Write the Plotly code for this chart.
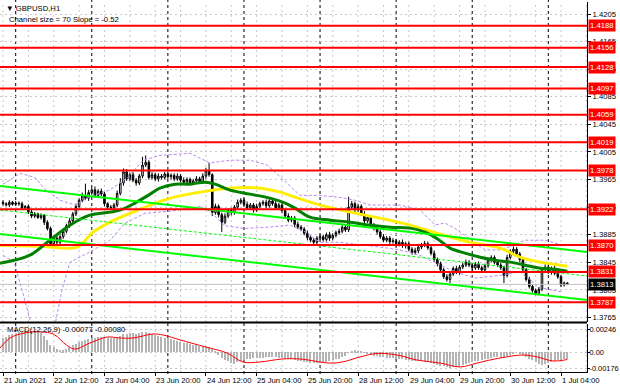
import plotly.graph_objects as go

# ---------------- data ----------------
close = [
    1.3930, 1.3928, 1.3932, 1.3929, 1.3931, 1.3930,
    1.3924, 1.3926,
    1.3918, 1.3912, 1.3915, 1.3910, 1.3913,
    1.3903, 1.3894,
    1.3872,
    1.3880, 1.3874, 1.3882,
    1.3890, 1.3898, 1.3905,
    1.3915, 1.3926,
    1.3935, 1.3941, 1.3938,
    1.3946, 1.3950, 1.3942, 1.3948, 1.3944,
    1.3930, 1.3925,
    1.3924, 1.3928,
    1.3945, 1.3960,
    1.3976, 1.3966, 1.3972,
    1.3964, 1.3960, 1.3970,
    1.3986, 1.3990,
    1.3968,
    1.3972, 1.3966, 1.3970, 1.3968, 1.3973, 1.3969, 1.3971, 1.3966, 1.3970,
    1.3964, 1.3961, 1.3965, 1.3960, 1.3963, 1.3966, 1.3962,
    1.3970, 1.3978, 1.3972,
    1.3917,
    1.3926, 1.3914, 1.3903,
    1.3912, 1.3920, 1.3917, 1.3925,
    1.3932, 1.3935, 1.3929,
    1.3924, 1.3928, 1.3921, 1.3926, 1.3930,
    1.3932, 1.3927, 1.3934, 1.3930, 1.3924, 1.3928,
    1.3920, 1.3912, 1.3906, 1.3909, 1.3900, 1.3896,
    1.3893, 1.3887, 1.3881,
    1.3877, 1.3874, 1.3880,
    1.3882, 1.3878, 1.3885, 1.3880, 1.3884, 1.3888,
    1.3890, 1.3896, 1.3892,
    1.3925, 1.3930,
    1.3921, 1.3926, 1.3915,
    1.3905, 1.3910, 1.3898, 1.3894, 1.3889,
    1.3882, 1.3877, 1.3880, 1.3875,
    1.3876, 1.3871, 1.3874, 1.3869, 1.3872,
    1.3864, 1.3859, 1.3862, 1.3867, 1.3870,
    1.3872, 1.3866, 1.3858,
    1.3849, 1.3843, 1.3834,
    1.3824, 1.3820, 1.3828,
    1.3836, 1.3831, 1.3838,
    1.3841, 1.3845, 1.3841, 1.3837, 1.3842,
    1.3837, 1.3834, 1.3840,
    1.3848, 1.3852, 1.3845,
    1.3841, 1.3837, 1.3826,
    1.3852, 1.3861, 1.3864,
    1.3857, 1.3849,
    1.3834, 1.3820,
    1.3810, 1.3804, 1.3800, 1.3806,
    1.3835,
    1.3838, 1.3831, 1.3836, 1.3829,
    1.3824, 1.3812, 1.3815, 1.3813,
]
first_open = 1.3932
# upper / lower wick lengths in pips
wick_up = [
    3, 2, 3, 2, 3, 2, 3, 2, 3, 4,
    3, 2, 3, 2, 3, 3, 4, 3, 3, 4,
    3, 4, 3, 4, 3, 5, 18, 4, 3, 5,
    3, 4, 3, 2, 3, 3, 4, 7, 5, 4,
    3, 4, 3, 3, 12, 10, 3, 4, 3, 4,
    3, 3, 4, 3, 3, 4, 3, 4, 3, 3,
    3, 4, 3, 4, 4, 11, 2, 4, 3, 3,
    4, 3, 4, 3, 4, 3, 3, 4, 3, 3,
    4, 3, 3, 4, 3, 3, 4, 3, 3, 3,
    4, 3, 3, 4, 3, 3, 4, 3, 3, 3,
    4, 3, 3, 4, 3, 3, 4, 3, 3, 15,
    4, 3, 4, 3, 4, 3, 3, 4, 3, 3,
    4, 3, 3, 4, 3, 3, 4, 3, 3, 3,
    4, 3, 3, 4, 3, 3, 4, 3, 3, 3,
    4, 3, 3, 4, 3, 3, 4, 3, 3, 3,
    4, 3, 3, 4, 3, 3, 4, 3, 3, 4,
    3, 4, 3, 3, 3, 3, 4, 3, 3, 3,
    3, 4, 3, 3, 4, 3, 3, 2, 1,
]
wick_dn = [
    3, 2, 3, 2, 2, 3, 3, 2, 3, 3,
    3, 2, 3, 4, 3, 6, 3, 4, 3, 3,
    3, 3, 4, 3, 3, 3, 3, 4, 3, 3,
    3, 3, 4, 3, 3, 3, 3, 3, 4, 3,
    3, 3, 4, 3, 3, 3, 3, 3, 3, 4,
    3, 3, 3, 4, 3, 3, 3, 3, 4, 3,
    3, 3, 3, 3, 4, 3, 5, 3, 4, 14,
    3, 3, 4, 3, 3, 3, 4, 3, 3, 4,
    3, 3, 3, 4, 3, 3, 3, 3, 4, 3,
    3, 3, 4, 3, 3, 3, 4, 3, 3, 3,
    3, 3, 3, 4, 3, 3, 3, 3, 3, 3,
    3, 4, 3, 3, 4, 3, 3, 3, 4, 3,
    3, 3, 4, 3, 3, 3, 3, 4, 3, 3,
    3, 4, 3, 3, 3, 3, 3, 4, 3, 3,
    3, 5, 3, 3, 4, 3, 3, 3, 4, 3,
    3, 3, 4, 3, 3, 3, 3, 3, 11, 3,
    3, 3, 3, 4, 3, 3, 3, 3, 3, 3,
    3, 3, 3, 4, 3, 3, 3, 2, 1,
]

levels = [1.4188, 1.4156, 1.4128, 1.4097, 1.4059, 1.4019, 1.3978, 1.3922, 1.3870, 1.3831, 1.3787]
last_price = 1.3813
price_ticks = [1.4205, 1.4165, 1.4125, 1.4085, 1.4045, 1.4005, 1.3965, 1.3925, 1.3885, 1.3845, 1.3805, 1.3765]

time_labels = ["21 Jun 2021", "22 Jun 12:00", "23 Jun 04:00", "23 Jun 20:00", "24 Jun 12:00",
               "25 Jun 04:00", "25 Jun 20:00", "28 Jun 12:00", "29 Jun 04:00", "29 Jun 20:00",
               "30 Jun 12:00", "1 Jul 04:00"]
time_label_bars = [0, 16, 32, 48, 64, 80, 96, 112, 128, 144, 160, 176]
day_sep_bars = [4, 28, 52, 76, 100, 124, 148, 172]
grid_bars = list(range(0, 185, 8))

ma_green_bar = [-0.95, 8.5, 14.8, 21.1, 27.4, 33.8, 36.9, 41.6, 46.4, 49.5, 54.3, 59.0, 63.7, 66.9,
                71.6, 77.9, 84.2, 89.0, 92.1, 96.8, 103.2, 109.5, 115.8, 122.1, 128.4, 133.1, 137.2,
                141.0, 145.7, 150.5, 155.2, 159.9, 164.7, 169.4, 174.1, 178.0]
ma_green = [1.38437, 1.38553, 1.38771, 1.38988, 1.39133, 1.39177, 1.39206, 1.39308, 1.39438, 1.39525,
            1.39583, 1.39583, 1.39612, 1.39583, 1.39496, 1.39438, 1.39380, 1.39308, 1.39235, 1.39105,
            1.39061, 1.39032, 1.38988, 1.38959, 1.38945, 1.38887, 1.38785, 1.38655, 1.38582, 1.38524,
            1.38481, 1.38452, 1.38408, 1.38365, 1.38350, 1.38321]

ma_yellow_bar = [-0.95, 11.7, 23.3, 28.4, 33.8, 41.0, 51.7, 62.1, 71.6, 81.1, 87.4, 92.1, 100.0,
                 109.5, 118.9, 128.4, 137.9, 147.3, 156.8, 163.1, 169.4, 178.0]
ma_yellow = [1.38698, 1.38684, 1.38669, 1.38887, 1.39032, 1.39177, 1.39366, 1.39467, 1.39525, 1.39525,
             1.39467, 1.39394, 1.39279, 1.39177, 1.39090, 1.38988, 1.38858, 1.38742, 1.38655, 1.38524,
             1.38452, 1.38394]

bb_up_bar = [0, 5.4, 10.1, 13.2, 18.0, 22.7, 27.4, 33.8, 39.1, 44.2, 49.5, 59.0, 65.3, 71.6, 77.9,
             83.3, 87.4, 93.7, 100.0, 106.3, 111.0, 115.8, 125.2, 131.5, 136.3, 139.4, 142.6, 152.0,
             157.4, 164.7, 171.0, 176.3]
bb_up = [1.3958, 1.3974, 1.3968, 1.3951, 1.3935, 1.3928, 1.3940, 1.3950, 1.3967, 1.3993, 1.4000,
         1.4003, 1.3989, 1.3993, 1.3993, 1.3986, 1.3969, 1.3942, 1.3942, 1.3939, 1.3935, 1.3928,
         1.3928, 1.3921, 1.3899, 1.3902, 1.3894, 1.3863, 1.3863, 1.3877, 1.3877, 1.3870]
bb_lo_bar = [0, 3.5, 6.0, 8.0, 9.5, 16.0, 18.6, 21.1, 27.4, 33.8, 38.5, 44.8, 52.7, 62.1, 65.3, 70.0,
             76.3, 84.2, 90.5, 95.3, 100.0, 106.3, 112.6, 118.9, 125.2, 131.5, 137.9, 142.6, 148.9,
             156.8, 163.1, 169.4, 176.3]
bb_lo = [1.3855, 1.3845, 1.3805, 1.3770, 1.3745, 1.3745, 1.3805, 1.3845, 1.3860, 1.3877, 1.3902,
         1.3916, 1.3919, 1.3926, 1.3919, 1.3898, 1.3894, 1.3896, 1.3899, 1.3889, 1.3874, 1.3874,
         1.3871, 1.3867, 1.3863, 1.3855, 1.3841, 1.3831, 1.3822, 1.3826, 1.3831, 1.3808, 1.3802]

chan_bar = [-0.95, 184.2]
chan_up = [1.39556, 1.38599]
chan_mid = [1.39208, 1.38251]
chan_lo = [1.38860, 1.37903]

# MACD main histogram, in units of 0.00001
macd_hist = [
    150, 165, 180, 190, 200, 210,
    215, 220, 225, 228, 225, 215, 200,
    170, 130, 80, 50,
    35, 25, 20, 30, 50,
    70, 90, 105, 120, 130, 140, 150, 155, 160, 165,
    160, 155, 150, 150, 160, 175, 190, 195, 200, 200, 198, 200, 210, 215, 205,
    195, 185, 175, 165, 155, 145, 135, 125,
    118, 110, 100, 95, 88, 80, 72, 65, 60, 60,
    55, 30, 5,
    -30, -60, -85, -100, -115, -125,
    -110, -95, -85, -75, -70, -65, -60, -60,
    -60, -58, -55, -55, -58, -60, -65, -70, -75, -80, -88, -95, -100, -105, -110, -115,
    -118, -120, -120, -118, -110, -100,
    -90, -80, -70, -55, -40,
    -5, 15, 20, 15, 5,
    -10, -20, -30, -38, -45, -50,
    -55, -60, -65, -68, -72, -75, -80, -85, -90,
    -95, -100, -100, -100, -105, -110, -115, -125, -135, -145, -155, -165, -170,
    -165, -160, -150, -140, -130, -120,
    -110, -100, -92, -85, -78, -70, -62, -58, -55, -60,
    -60, -45, -30, -15, -10, -15,
    -30, -50, -70, -90, -110, -130, -140, -130,
    -115, -105, -95, -90, -85, -80, -77,
]
sig_bar = [-0.95, 2.2, 7.0, 12.0, 16.0, 20.0, 22.7, 27.4, 32.8, 37.0, 41.0, 47.3, 50.5, 56.0, 64.0,
           70.7, 75.7, 81.0, 88.0, 93.7, 103.0, 107.0, 112.6, 118.0, 124.3, 130.6, 137.9, 144.2,
           149.5, 156.8, 164.0, 168.5, 173.5, 178.0]
sig = [43, 150, 205, 215, 190, 75, 32, 96, 160, 150, 150, 193, 182, 128, 53,
       -11, -107, -107, -75, -75, -118, -107, -53, -15, -32, -86, -118, -160,
       -118, -64, -32, -53, -96, -80]

# ---------------- figure ----------------
W, H = 620, 388
XR = 587 / W
bars = list(range(len(close)))
opens = [first_open] + close[:-1]
highs = [max(o, c) + u * 0.0001 for o, c, u in zip(opens, close, wick_up)]
lows = [min(o, c) - d * 0.0001 for o, c, d in zip(opens, close, wick_dn)]

FONT = "Liberation Sans, Arial, sans-serif"
FS = 7.7

def py(p):  # pixel-from-top -> paper
    return 1 - p / H

fig = go.Figure()

# Bollinger-like dashed envelopes
fig.add_trace(go.Scatter(x=bb_up_bar, y=bb_up, mode="lines", line=dict(color="#b888ee", width=1, dash="3px,2px"),
                         xaxis="x", yaxis="y", hoverinfo="skip"))
fig.add_trace(go.Scatter(x=bb_lo_bar, y=bb_lo, mode="lines", line=dict(color="#b888ee", width=1, dash="3px,2px"),
                         xaxis="x", yaxis="y", hoverinfo="skip"))

# bid line
fig.add_trace(go.Scatter(x=chan_bar, y=[last_price, last_price], mode="lines",
                         line=dict(color="#c0c0c0", width=1), xaxis="x", yaxis="y", hoverinfo="skip"))

# candles
fig.add_trace(go.Candlestick(
    x=bars, open=opens, high=highs, low=lows, close=close,
    increasing=dict(line=dict(color="black", width=1), fillcolor="white"),
    decreasing=dict(line=dict(color="black", width=1), fillcolor="black"),
    whiskerwidth=0, xaxis="x", yaxis="y", hoverinfo="skip"))

# moving averages
fig.add_trace(go.Scatter(x=ma_yellow_bar, y=ma_yellow, mode="lines", line=dict(color="#ffee00", width=3, shape="spline"),
                         xaxis="x", yaxis="y", hoverinfo="skip"))
fig.add_trace(go.Scatter(x=ma_green_bar, y=ma_green, mode="lines", line=dict(color="#008000", width=3, shape="spline"),
                         xaxis="x", yaxis="y", hoverinfo="skip"))

# regression channel
fig.add_trace(go.Scatter(x=chan_bar, y=chan_mid, mode="lines", line=dict(color="#00ff00", width=1, dash="3px,2px"),
                         xaxis="x", yaxis="y", hoverinfo="skip"))
for cy in (chan_up, chan_lo):
    fig.add_trace(go.Scatter(x=chan_bar, y=cy, mode="lines", line=dict(color="#00ff00", width=2),
                             xaxis="x", yaxis="y", hoverinfo="skip"))

# red horizontal levels
for lv in levels:
    fig.add_trace(go.Scatter(x=chan_bar, y=[lv, lv], mode="lines", line=dict(color="#ff0000", width=2),
                             xaxis="x", yaxis="y", hoverinfo="skip"))

# MACD
fig.add_trace(go.Bar(x=bars, y=[v * 1e-5 for v in macd_hist], marker=dict(color="#b4b4b4", line=dict(width=0)),
                     width=0.4, xaxis="x", yaxis="y2", hoverinfo="skip"))
fig.add_trace(go.Scatter(x=sig_bar, y=[v * 1e-5 for v in sig], mode="lines",
                         line=dict(color="#ff0000", width=1, shape="spline"), xaxis="x", yaxis="y2", hoverinfo="skip"))

shapes = []
# vertical grid
for b in grid_bars:
    for yr in ("y", "y2"):
        shapes.append(dict(type="line", xref="x", yref=yr + " domain", x0=b, x1=b, y0=0, y1=1,
                           line=dict(color="#c8c8c8", width=1, dash="2px,3px"), layer="below"))
# day separators
for b in day_sep_bars:
    shapes.append(dict(type="line", xref="x", yref="paper", x0=b, x1=b, y0=py(374), y1=1,
                       line=dict(color="black", width=1, dash="3px,3px"), layer="below"))
# panel separator
shapes.append(dict(type="line", xref="paper", yref="paper", x0=0, x1=XR, y0=py(322.5), y1=py(322.5),
                   line=dict(color="black", width=2)))

annotations = []
for lv in levels:
    annotations.append(dict(xref="paper", yref="y", x=588 / W, y=lv, xanchor="left", yanchor="middle",
                            text=f"{lv:.4f}", showarrow=False, bgcolor="#ff0000", borderpad=1,
                            font=dict(family=FONT, size=FS, color="white")))
annotations.append(dict(xref="paper", yref="y", x=588 / W, y=last_price, xanchor="left", yanchor="middle",
                        text=f"{last_price:.4f}", showarrow=False, bgcolor="black", borderpad=1,
                        font=dict(family=FONT, size=FS, color="white")))
for lab, b in zip(time_labels, time_label_bars):
    annotations.append(dict(xref="x", yref="paper", x=b - 0.4, y=py(380), xanchor="left", yanchor="middle",
                            text=lab, showarrow=False, font=dict(family=FONT, size=FS, color="black")))
annotations.append(dict(xref="paper", yref="paper", x=4 / W, y=py(8), xanchor="left", yanchor="middle",
                        text="\u25bc GBPUSD,H1", showarrow=False, font=dict(family=FONT, size=FS, color="black")))
annotations.append(dict(xref="paper", yref="paper", x=7 / W, y=py(19), xanchor="left", yanchor="middle",
                        text="Channel size = 70 Slope = -0.52", showarrow=False,
                        font=dict(family=FONT, size=FS, color="black")))
annotations.append(dict(xref="paper", yref="paper", x=5 / W, y=py(329), xanchor="left", yanchor="middle",
                        text="MACD(12,26,9) -0.00077 -0.00080", showarrow=False,
                        font=dict(family=FONT, size=FS, color="black")))

fig.update_layout(
    template="none",
    width=W, height=H, margin=dict(l=0, r=0, t=0, b=0, pad=0),
    paper_bgcolor="white", plot_bgcolor="white", showlegend=False,
    bargap=0, barmode="overlay",
    xaxis=dict(domain=[0, XR], range=[-0.95, 184.2], anchor="y2", showgrid=False, zeroline=False,
               automargin=False,
               rangeslider=dict(visible=False), showline=True, linecolor="black", linewidth=1,
               ticks="outside", ticklen=3, tickcolor="black", tickvals=time_label_bars, showticklabels=False),
    yaxis=dict(domain=[py(322), py(2)], range=[1.37584, 1.42224], side="right", anchor="x",
               automargin=False,
               showline=True, linecolor="black", linewidth=1, ticks="outside", ticklen=3, tickcolor="black",
               tickvals=price_ticks, ticktext=[f"{t:.4f}" for t in price_ticks],
               showgrid=True, gridcolor="#c8c8c8", griddash="2px,3px", gridwidth=1, zeroline=False,
               tickfont=dict(family=FONT, size=FS, color="black")),
    yaxis2=dict(domain=[py(372), py(324)], range=[-0.00214, 0.00300], side="right", anchor="x",
                automargin=False, ticklabelstandoff=-2,
                showline=True, linecolor="black", linewidth=1, ticks="outside", ticklen=2, tickcolor="black",
                tickvals=[0.00246, 0.0, -0.00176], ticktext=["0.00246", "0.00", "-0.00176"],
                showgrid=True, gridcolor="#c8c8c8", griddash="2px,3px", zeroline=False,
                tickfont=dict(family=FONT, size=7.4, color="black")),
    shapes=shapes, annotations=annotations,
)

fig.write_html("out.html", config={"displayModeBar": False},
               post_script="document.body.style.margin='0';document.body.style.padding='0';")
